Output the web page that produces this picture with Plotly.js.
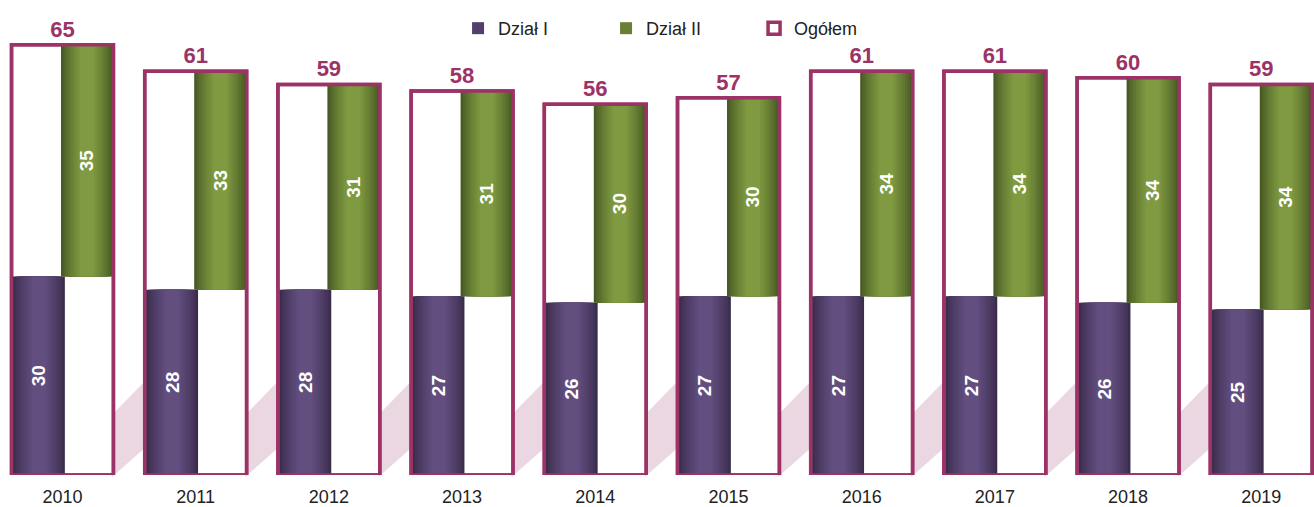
<!DOCTYPE html>
<html>
<head>
<meta charset="utf-8">
<script src="https://cdn.plot.ly/plotly-3.0.1.min.js"></script>
<style>html,body{margin:0;padding:0;background:#fff;}#chart{width:1314px;height:507px;}</style>
</head>
<body>
<div id="chart"></div>
<script>
// ---- data ----
const years   = ['2010','2011','2012','2013','2014','2015','2016','2017','2018','2019'];
const dzialI  = [30, 28, 28, 27, 26, 27, 27, 27, 26, 25];
const dzialII = [35, 33, 31, 31, 30, 30, 34, 34, 34, 34];
const ogolem  = [65, 61, 59, 58, 56, 57, 61, 61, 60, 59];
const seriesNames = ['Dział I', 'Dział II', 'Ogółem'];

// ---- style ----
const MAGENTA = '#9b3366';
const FONT = 'Liberation Sans, Arial, sans-serif';
const BAR_W = 0.39;
const BOX_W = 0.765;

function hex2rgb(h){h=h.replace('#','');return [0,2,4].map(i=>parseInt(h.substr(i,2),16));}
function mix(a,b,t){const A=hex2rgb(a),B=hex2rgb(b);return 'rgb('+A.map((v,i)=>Math.round(v+(B[i]-v)*t)).join(',')+')';}

// cylinder-like shading: several narrower bars stacked on top of each other
function shaded(name, yvals, base, leftOffset, dark, light, K, legendColorIdx, rank){
  const out=[];
  const center = leftOffset + BAR_W/2;
  for(let k=0;k<K;k++){
    const w = BAR_W*(1 - 0.82*k/K);
    const t = Math.pow(k/(K-1), 0.8);
    out.push({
      type:'bar', x:years, y:yvals, base:base, name:name,
      width:w, offset:center - w/2,
      marker:{color:mix(dark,light,t), line:{width:0}},
      showlegend: k===legendColorIdx, legendrank:rank,
      hoverinfo:'skip'
    });
  }
  return out;
}

const traces = [];
// Ogółem box (white fill)
traces.push({
  type:'bar', x:years, y:ogolem, name:seriesNames[2],
  width:BOX_W, offset:-BOX_W/2,
  marker:{color:'#ffffff', line:{color:MAGENTA, width:3.5}},
  showlegend:true, legendrank:3, hoverinfo:'skip'
});
// Dział I (purple)
traces.push(...shaded(seriesNames[0], dzialI, null, -0.372, '#3b2d4c', '#634e80', 9, 4, 1));
// Dział II (green)
traces.push(...shaded(seriesNames[1], dzialII, dzialI, -0.011, '#485a24', '#7f9a40', 9, 4, 2));
// labels inside Dział I
traces.push({
  type:'bar', x:years, y:dzialI, width:BAR_W, offset:-0.372,
  marker:{color:'rgba(0,0,0,0)'}, showlegend:false, hoverinfo:'skip',
  text:dzialI.map(String), textposition:'inside', insidetextanchor:'middle',
  textangle:-90, constraintext:'none',
  textfont:{family:FONT, size:19, color:'#ffffff', weight:'bold'}
});
// labels inside Dział II
traces.push({
  type:'bar', x:years, y:dzialII, base:dzialI, width:BAR_W, offset:-0.011,
  marker:{color:'rgba(0,0,0,0)'}, showlegend:false, hoverinfo:'skip',
  text:dzialII.map(String), textposition:'inside', insidetextanchor:'middle',
  textangle:-90, constraintext:'none',
  textfont:{family:FONT, size:19, color:'#ffffff', weight:'bold'}
});
// Ogółem outline on top + totals
traces.push({
  type:'bar', x:years, y:ogolem, width:BOX_W, offset:-BOX_W/2,
  marker:{color:'rgba(0,0,0,0)', line:{color:MAGENTA, width:3.5}},
  showlegend:false, hoverinfo:'skip', cliponaxis:false,
  text:ogolem.map(String), textposition:'outside', constraintext:'none',
  textfont:{family:FONT, size:22, color:MAGENTA, weight:'bold'}
});

// faint watermark stripes visible in the gaps between boxes
const W=1314, PH=475;
const shapes=[];
for(let i=0;i<years.length-1;i++){
  const R = 115 + 133.2*i;
  const pts=[[R-3,415],[R+32,379],[R+32,446],[R-3,477]];
  const path = 'M'+pts.map(p=>(p[0]/W).toFixed(5)+','+((PH-p[1])/PH).toFixed(5)).join(' L')+' Z';
  shapes.push({type:'path', xref:'paper', yref:'paper', path:path,
    fillcolor:'#ead7e1', line:{width:0}, layer:'below'});
}

const layout = {
  width:1314, height:507,
  margin:{l:0, r:0, t:0, b:32, pad:0},
  paper_bgcolor:'#ffffff', plot_bgcolor:'rgba(0,0,0,0)',
  barmode:'overlay',
  font:{family:FONT, color:'#222222'},
  xaxis:{type:'category', range:[-0.469, 9.396], showgrid:false, zeroline:false,
         showline:false, ticks:'', ticklabelstandoff:9,
         tickfont:{family:FONT, size:18, color:'#222222'}, fixedrange:true},
  yaxis:{range:[0, 71.75], showgrid:false, zeroline:false, showline:false,
         showticklabels:false, ticks:'', fixedrange:true},
  legend:{orientation:'h', x:0.3486, xanchor:'left', y:0.979, yanchor:'top',
          font:{family:FONT, size:18, color:'#222222'},
          entrywidth:103, entrywidthmode:'pixels', traceorder:'normal',
          bgcolor:'rgba(0,0,0,0)', itemclick:false, itemdoubleclick:false},
  shapes:shapes,
  showlegend:true
};

Plotly.newPlot('chart', traces, layout, {displayModeBar:false, staticPlot:true});
</script>
</body>
</html>
